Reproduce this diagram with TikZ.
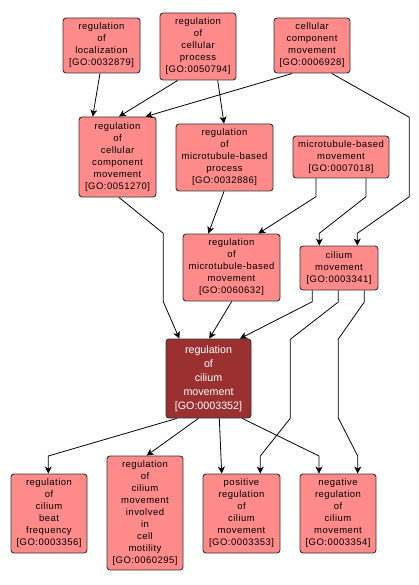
\documentclass[tikz,border=0pt]{standalone}
\usepackage{fontspec}
\setmainfont{Liberation Sans}
\newfontfamily\gofont[LetterSpace=5]{Liberation Sans}
\usetikzlibrary{arrows.meta}
\definecolor{gopink}{HTML}{FF8A8A}
\definecolor{godark}{HTML}{9A3030}
\tikzset{
  gobox/.style={draw=black!80, line width=0.9pt, fill=gopink, rounded corners=3pt,
    align=center, inner sep=0pt, font=\gofont\fontsize{9.5}{12}\selectfont, text=black},
  godarkbox/.style={gobox, fill=godark, text=white, font=\fontsize{10.7}{14}\selectfont},
  arr/.style={draw=black, line width=0.8pt, -{Stealth[length=7pt,width=7pt,inset=2pt]}}
}
\begin{document}
\begin{tikzpicture}[x=1pt,y=-1pt]
\useasboundingbox (0,0) rectangle (419,585);
\node[gobox, minimum width=77, minimum height=55] (loc) at (101.5,45.5) {regulation\\of\\localization\\{[GO:0032879]}};
\node[gobox, minimum width=76, minimum height=67] (cproc) at (198,46.5) {regulation\\of\\cellular\\process\\{[GO:0050794]}};
\node[gobox, minimum width=76, minimum height=55] (ccm) at (312,45.5) {cellular\\component\\movement\\{[GO:0006928]}};
\node[gobox, minimum width=77, minimum height=80] (rccm) at (117.5,157) {regulation\\of\\cellular\\component\\movement\\{[GO:0051270]}};
\node[gobox, minimum width=97, minimum height=67] (rmtp) at (224.5,157.5) {regulation\\of\\microtubule-based\\process\\{[GO:0032886]}};
\node[gobox, minimum width=96, minimum height=42] (mtm) at (341,157) {microtubule-based\\movement\\{[GO:0007018]}};
\node[gobox, minimum width=97, minimum height=67] (rmtm) at (231.5,267.5) {regulation\\of\\microtubule-based\\movement\\{[GO:0060632]}};
\node[gobox, minimum width=78, minimum height=44] (cm) at (339,268) {cilium\\movement\\{[GO:0003341]}};
\node[godarkbox, minimum width=85, minimum height=79] (rcm) at (208.5,378.5) {regulation\\of\\cilium\\movement\\{[GO:0003352]}};
\node[gobox, minimum width=76, minimum height=79] (cbf) at (49,513.5) {regulation\\of\\cilium\\beat\\frequency\\{[GO:0003356]}};
\node[gobox, minimum width=76, minimum height=114] (motil) at (145,513) {regulation\\of\\cilium\\movement\\involved\\in\\cell\\motility\\{[GO:0060295]}};
\node[gobox, minimum width=77, minimum height=79] (pos) at (241.5,513.5) {positive\\regulation\\of\\cilium\\movement\\{[GO:0003353]}};
\node[gobox, minimum width=76, minimum height=79] (neg) at (338,513.5) {negative\\regulation\\of\\cilium\\movement\\{[GO:0003354]}};

\draw[arr] ([xshift=-1.5]loc.south) -- ([xshift=-24.8]rccm.north);
\draw[arr] ([xshift=-20.3]cproc.south) -- ([xshift=1.5]rccm.north);
\draw[arr] ([xshift=-19.7]ccm.south) -- ([xshift=28.2]rccm.north);
\draw[arr] ([xshift=19.7]cproc.south) -- ([xshift=-0.5]rmtp.north);
\draw[arr] ([xshift=19.7]ccm.south) -- (409.3,117.3) -- (409.3,196.7) -- (357.3,233.3) -- ([xshift=18.3]cm.north);
\draw[arr] ([xshift=-25]mtm.south) -- (316,196.7) -- ([xshift=26.8]rmtm.north);
\draw[arr] ([xshift=25]mtm.south) -- (366,196.7) -- (319.3,233.3) -- ([xshift=-19.7]cm.north);
\draw[arr] ([xshift=-0.5]rmtp.south) -- ([xshift=-23.2]rmtm.north);
\draw[arr] ([xshift=1.5]rccm.south) -- (163.3,233.3) -- (163.3,301.7) -- ([xshift=-29.2]rcm.north);
\draw[arr] ([xshift=0.2]rmtm.south) -- ([xshift=0.8]rcm.north);
\draw[arr] ([xshift=-26.7]cm.south) -- (312.3,301.7) -- ([xshift=31.5]rcm.north);
\draw[arr] ([xshift=-0.7]cm.south) -- (338.3,302) -- (290.3,339.3) -- (290.3,418.3) -- (260.3,456) -- ([xshift=18.8]pos.north);
\draw[arr] ([xshift=25.3]cm.south) -- (364.3,302) -- (338.3,339) -- (338.3,418) -- (357.7,456) -- ([xshift=19.7]neg.north);
\draw[arr] ([xshift=-31.8]rcm.south) -- (48.3,456) -- ([xshift=-0.7]cbf.north);
\draw[arr] ([xshift=-10.2]rcm.south) -- ([xshift=1.7]motil.north);
\draw[arr] ([xshift=10.8]rcm.south) -- ([xshift=-19.8]pos.north);
\draw[arr] ([xshift=33.8]rcm.south) -- (319,456) -- ([xshift=-19]neg.north);
\end{tikzpicture}
\end{document}
